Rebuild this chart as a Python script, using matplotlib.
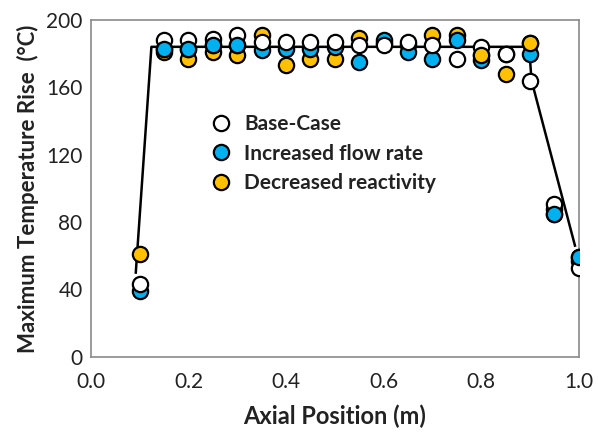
import numpy as np
import matplotlib
matplotlib.use("Agg")
import matplotlib.pyplot as plt
from matplotlib.lines import Line2D

# Axial positions of the measurement points (m)
positions = [0.10, 0.15, 0.20, 0.25, 0.30, 0.35, 0.40, 0.45, 0.50, 0.55,
             0.60, 0.65, 0.70, 0.75, 0.80, 0.85, 0.90, 0.95, 1.00]

# Maximum temperature rise (°C) for each case
base_case = [43, 188, 188, 188.5, 191, 187, 187, 187, 187, 185,
             185, 187, 185, 177, 184, 180, 164, 91, 53]
increased_flow = [39, 183, 183, 185, 185, 182, 182.5, 183, 184, 175,
                  188, 181, 177, 188, 176, 180, 180, 85, 59]
decreased_reactivity = [61, 181, 177, 181, 179, 191, 173, 177, 177, 189,
                        186, 185, 191, 191, 179, 168, 186, 88, 57]

# Model profile drawn as a solid line
model_x = [0.092, 0.124, 0.898, 0.903, 0.992]
model_y = [50, 184, 184, 164, 66]

series_labels = ["Base-Case", "Increased flow rate", "Decreased reactivity"]
series_colors = ["white", "#00b0f0", "#ffc000"]

# Positions where a series sits in front of the others
blue_front = [0.15, 0.20, 0.25, 0.30, 0.95, 1.00]
orange_front = [0.80, 0.90]

plt.rcParams["font.family"] = ["Lato", "DejaVu Sans"]

fig = plt.figure(figsize=(5.98, 4.32), dpi=100)
ax = fig.add_axes([0.152, 0.174, 0.816, 0.780])

x = np.array(positions)
ys = [np.array(base_case), np.array(increased_flow), np.array(decreased_reactivity)]

ax.plot(model_x, model_y, color="black", lw=1.8, zorder=2)

ms = 11
mew = 1.6
zorders = [5, 4, 3]
for y, c, z in zip(ys, series_colors, zorders):
    ax.plot(x, y, linestyle="none", marker="o", ms=ms, mfc=c, mec="black",
            mew=mew, zorder=z)

m = np.isin(x, blue_front)
ax.plot(x[m], ys[1][m], linestyle="none", marker="o", ms=ms,
        mfc=series_colors[1], mec="black", mew=mew, zorder=6)
m = np.isin(x, orange_front)
ax.plot(x[m], ys[2][m], linestyle="none", marker="o", ms=ms,
        mfc=series_colors[2], mec="black", mew=mew, zorder=6)

ax.set_xlim(0, 1.0)
ax.set_ylim(0, 200)
ax.set_xticks(np.arange(0, 1.01, 0.2))
ax.set_xticklabels(["0.0", "0.2", "0.4", "0.6", "0.8", "1.0"])
ax.set_yticks(np.arange(0, 201, 40))
ax.tick_params(axis="x", length=0, labelsize=15, pad=11, colors="#222222")
ax.tick_params(axis="y", length=0, labelsize=15, pad=6, colors="#222222")
for s in ax.spines.values():
    s.set_color("#8a8a8a")
    s.set_linewidth(1.2)

ax.set_xlabel("Axial Position (m)", fontsize=17, fontweight="bold",
              labelpad=9, color="#222222")
ax.set_ylabel("Maximum Temperature Rise  (\u00b0C)", fontsize=16,
              fontweight="bold", labelpad=5, color="#222222")

handles = [Line2D([], [], linestyle="none", marker="o", ms=ms, mfc=c,
                  mec="black", mew=mew) for c in series_colors]
leg = ax.legend(handles, series_labels, loc="upper left",
                bbox_to_anchor=(0.233, 0.72), frameon=False, borderpad=0,
                borderaxespad=0, handletextpad=0.3, handlelength=1.6,
                labelspacing=0.45, prop={"weight": "bold", "size": 15})
for t in leg.get_texts():
    t.set_color("#222222")

fig.savefig("out.png", dpi=100)
